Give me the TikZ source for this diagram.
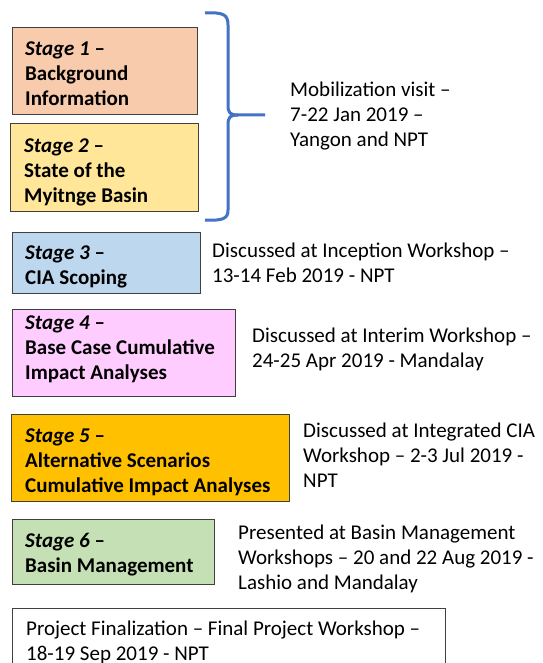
\documentclass[tikz,border=0pt]{standalone}
\usepackage{fontspec}
\setmainfont{Carlito}
\definecolor{c1}{HTML}{F8CBAD}
\definecolor{c2}{HTML}{FFE699}
\definecolor{c3}{HTML}{BDD7EE}
\definecolor{c4}{HTML}{FFCCFF}
\definecolor{c5}{HTML}{FFC000}
\definecolor{c6}{HTML}{C5E0B4}
\definecolor{bord}{HTML}{404040}
\definecolor{braceblue}{HTML}{4472C4}
\tikzset{
  stagebox/.style={draw=bord, line width=1pt, anchor=north west, inner sep=0pt},
  boxtext/.style={anchor=west, inner sep=0pt, align=left, font=\fontsize{21}{25}\selectfont\bfseries},
  note/.style={anchor=west, inner sep=0pt, align=left, font=\fontsize{21}{25}\selectfont},
  bracestyle/.style={draw=braceblue, line width=3pt}
}
\newcommand{\stg}[1]{\textit{Stage #1} –}
\begin{document}
\begin{tikzpicture}[x=1pt,y=-1pt]
\clip (0,0) rectangle (542,663);
\fill[white] (0,0) rectangle (542,663);
\node[stagebox, fill=c1, minimum width=185pt, minimum height=87pt] (s1) at (12,27) {};
\node[stagebox, fill=c2, minimum width=188pt, minimum height=88pt] (s2) at (10,123) {};
\node[stagebox, fill=c3, minimum width=188pt, minimum height=61pt] (s3) at (12,232) {};
\node[stagebox, fill=c4, minimum width=223pt, minimum height=87pt] (s4) at (12,309) {};
\node[stagebox, fill=c5, minimum width=278pt, minimum height=87pt] (s5) at (11,414) {};
\node[stagebox, fill=c6, minimum width=202pt, minimum height=65pt] (s6) at (12,519) {};
\node[stagebox, fill=white, minimum width=433pt, minimum height=66pt] (s7) at (12,608) {};
\node[boxtext] (t1) at (25,74) {\stg{1}\\Background\\Information};
\node[boxtext] (t2) at (24,172.5) {\stg{2}\\State of the\\Myitnge Basin};
\node[boxtext] (t3) at (25,266.5) {\stg{3}\\CIA Scoping};
\node[boxtext] (t4) at (25,349.5) {\stg{4}\\Base Case Cumulative\\Impact Analyses};
\node[boxtext] (t5) at (25,462.5) {\stg{5}\\Alternative Scenarios\\Cumulative Impact Analyses};
\node[boxtext] (t6) at (25,554.5) {\stg{6}\\Basin Management};
\node[note] (t7) at (26,642) {Project Finalization – Final Project Workshop –\\18-19 Sep 2019 - NPT};
\draw[bracestyle] (205,13) .. controls (224,12) and (228,15) .. (228,25) -- (228,105)
  .. controls (228,113) and (230,115) .. (238,115) -- (265,115);
\draw[bracestyle] (238,115) .. controls (230,115) and (228,117) .. (228,125) -- (228,210)
  .. controls (228,218) and (224,221) .. (205,220);
\node[note] (n12) at (290,116.5) {Mobilization visit –\\7-22 Jan 2019 –\\Yangon and NPT};
\node[note] (n3) at (212,262.5) {Discussed at Inception Workshop –\\13-14 Feb 2019 - NPT};
\node[note] (n4) at (252,349.5) {Discussed at Interim Workshop –\\24-25 Apr 2019 - Mandalay};
\node[note] (n5) at (303,455) {Discussed at Integrated CIA\\Workshop – 2-3 Jul 2019 -\\NPT};
\node[note] (n6) at (238,559) {Presented at Basin Management\\Workshops – 20 and 22 Aug 2019 -\\Lashio and Mandalay};
\end{tikzpicture}
\end{document}
